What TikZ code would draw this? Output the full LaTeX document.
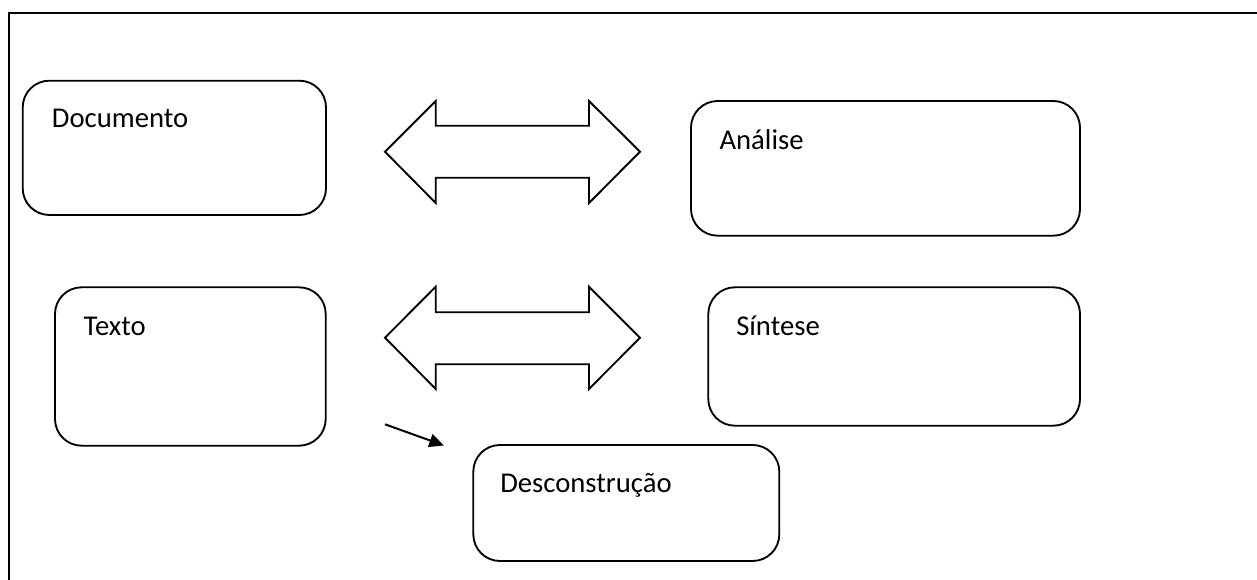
\documentclass[tikz,border=0pt]{standalone}
\usepackage{fontspec}
\setmainfont{Carlito}
\usetikzlibrary{fit,arrows.meta}
\tikzset{
  box/.style={draw=black, line width=1.4pt, rounded corners=20pt, inner sep=0pt, fill=white},
  lbl/.style={anchor=base west, inner sep=0pt, font=\fontsize{21.5pt}{26pt}\selectfont},
  blockarrow/.style={draw=black, line width=1.4pt, line join=miter, fill=white},
  frameline/.style={draw=black, line width=1.5pt, line join=miter},
  arr/.style={draw=black, line width=1.5pt, -{Triangle[length=11pt,width=10pt]}}
}
\begin{document}
\begin{tikzpicture}[x=0.75pt, y=-0.75pt]
\useasboundingbox (0,0) rectangle (1257,580);
% outer frame
\draw[frameline] (9,585) -- (9,13.5) -- (1262,13.5);
% boxes
\node[box, fit={(22.7,80.7) (326,215)}] (doc) {};
\node[lbl] (doctxt) at (51.7,128) {Documento};
\node[box, fit={(691,101) (1080,235.7)}] (ana) {};
\node[lbl] (anatxt) at (719.3,150) {Análise};
\node[box, fit={(55,287.3) (325.7,445.7)}] (tex) {};
\node[lbl] (textxt) at (83.3,336) {Texto};
\node[box, fit={(708.3,287.3) (1080,425.7)}] (sin) {};
\node[lbl] (sintxt) at (736,336) {Síntese};
\node[box, fit={(473.3,445) (779.3,561)}] (des) {};
\node[lbl] (destxt) at (500,493) {Desconstrução};
% double block arrows
\draw[blockarrow] (385,151.7) -- (435.7,101) -- (435.7,125.7) -- (589,125.7) -- (589,101)
  -- (640,151.7) -- (589,203) -- (589,177.7) -- (435.7,177.7) -- (435.7,203) -- cycle;
\draw[blockarrow] (385,337.7) -- (435.7,286.7) -- (435.7,312.3) -- (589,312.3) -- (589,286.7)
  -- (640,337.7) -- (589,389) -- (589,364.3) -- (435.7,364.3) -- (435.7,389) -- cycle;
% small arrow
\coordinate (s1) at (385,424.3);
\coordinate (s2) at (444,445.5);
\draw[arr] (s1) -- (s2);
\end{tikzpicture}
\end{document}
